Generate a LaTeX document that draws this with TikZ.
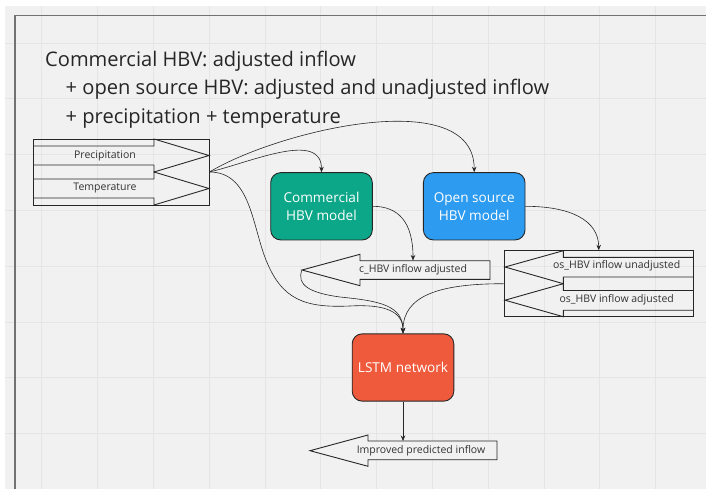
\documentclass[tikz,border=0pt]{standalone}
\usepackage{fontspec}
\setmainfont{Open Sans}
\usetikzlibrary{arrows.meta}

\definecolor{canvas}{HTML}{F1F1F1}
\definecolor{gridc}{HTML}{E5E5E5}
\definecolor{framec}{HTML}{727272}
\definecolor{inkc}{HTML}{262626}
\definecolor{lblc}{HTML}{333333}
\definecolor{commfill}{HTML}{0CA789}
\definecolor{osfill}{HTML}{2D9BF0}
\definecolor{lstmfill}{HTML}{F05A3C}

\tikzset{
  titletext/.style={anchor=base west, inner sep=0pt, text=inkc,
    font=\fontsize{20.1}{24}\selectfont},
  modelbox/.style={draw=inkc, line width=0.9pt, rounded corners=10pt,
    minimum width=101.6pt, minimum height=67.3pt, align=center,
    text=white, font=\fontsize{13.6}{18}\selectfont},
  groupbox/.style={draw=inkc, line width=0.9pt, inner sep=0pt},
  blockarrow/.style={draw=inkc, line width=0.9pt, line join=miter},
  lbl/.style={inner sep=0pt, text=lblc, font=\fontsize{10.5}{12}\selectfont},
  conn/.style={draw=inkc, line width=0.6pt,
    -{Stealth[length=5.5pt,width=4.5pt]}},
}

\begin{document}
\begin{tikzpicture}[x=1pt,y=-1pt]
\useasboundingbox (0,0) rectangle (706,489);

% canvas, grid and frame
\fill[white] (0,0) rectangle (706,489);
\fill[canvas] (5,6) rectangle (706,489);
\foreach \i in {0,...,11}
  \draw[gridc, line width=0.8pt] ({41.7+55.8*\i},6) -- ({41.7+55.8*\i},489);
\foreach \j in {0,...,7}
  \draw[gridc, line width=0.8pt] (5,{43+55.8*\j}) -- (706,{43+55.8*\j});
\draw[framec, line width=1.8pt] (15,489) -- (15,15.5) -- (706,15.5);

% heading
\node[titletext] (t1) at (45,66.7) {Commercial HBV: adjusted inflow};
\node[titletext] (t2) at (65.5,95) {+ open source HBV: adjusted and unadjusted inflow};
\node[titletext] (t3) at (65.5,123.3) {+ precipitation + temperature};

% meteorological inputs
\node[groupbox, minimum width=176pt, minimum height=66pt] (inputs) at (121,172) {};
\draw[blockarrow] (33,146) -- (154,146) -- (154,139) -- (209,155.5) -- (154,172) -- (154,165) -- (33,165);
\draw[blockarrow] (33,179) -- (154,179) -- (154,172) -- (209,188.5) -- (154,205) -- (154,198) -- (33,198);
\node[lbl] (prec) at (105,155.5) {Precipitation};
\node[lbl] (temp) at (105,188.5) {Temperature};

% hydrological models
\node[modelbox, fill=commfill] (comm) at (321.5,206.3) {Commercial\\HBV model};
\node[modelbox, fill=osfill] (osb) at (474.2,206.3) {Open source\\HBV model};

% commercial output
\draw[blockarrow, fill=canvas] (302,270) -- (360,254.3) -- (360,260.7) -- (490,260.7)
  -- (490,279.3) -- (360,279.3) -- (360,285.7) -- cycle;
\coordinate (ctip) at (302,270);
\node[lbl, minimum height=18.6pt] (clab) at (413,270) {c\_HBV inflow adjusted};

% open source outputs
\node[groupbox, minimum width=189.3pt, minimum height=66pt] (osg) at (598.7,283.7) {};
\draw[blockarrow] (693.3,257.3) -- (563.3,257.3) -- (563.3,250.7) -- (505,267)
  -- (563.3,283.7) -- (563.3,277) -- (693.3,277);
\draw[blockarrow] (693.3,290.5) -- (563.3,290.5) -- (563.3,283.7) -- (505,300.2)
  -- (563.3,316.7) -- (563.3,310.2) -- (693.3,310.2);
\node[lbl] (osu) at (616.7,266) {os\_HBV inflow unadjusted};
\node[lbl] (osa) at (616.7,299.5) {os\_HBV inflow adjusted};

% LSTM and its prediction
\node[modelbox, fill=lstmfill] (lstm) at (403,367.5) {LSTM network};
\draw[blockarrow, fill=canvas] (310,450.7) -- (368,435) -- (368,441) -- (497,441)
  -- (497,459.7) -- (368,459.7) -- (368,466.3) -- cycle;
\coordinate (imptop) at (403,441);
\node[lbl] (imp) at (421,450.3) {Improved predicted inflow};

% connectors
\coordinate (bendA) at (266,260);
\coordinate (bendB) at (350,306);
\coordinate (cbend) at (340,297);
\draw[conn] (inputs.east) .. controls +(42,-10) and +(0,-42) .. (comm.north);
\draw[conn] (inputs.east) .. controls +(70,-42) and +(0,-88) .. (osb.north);
\draw[conn] (inputs.east) .. controls +(41,0) and +(-14,-35) .. (bendA)
  .. controls +(16,40) and +(-45,2) .. (bendB)
  .. controls +(35,-2) and +(0,-22) .. (lstm.north);
\draw[conn] (comm.east) .. controls +(26,0) and +(0,-38) .. (clab.north);
\draw[conn] (osb.east) .. controls +(45,0) and +(0,-30) .. (osg.north);
\draw[conn] (ctip) .. controls +(-6,15) and +(-30,-4) .. (cbend)
  .. controls +(40,4) and +(0,-28) .. (lstm.north);
\draw[conn] (osg.west) .. controls +(-64,0) and +(0,-38) .. (lstm.north);
\draw[conn] (lstm.south) -- (imptop);
\end{tikzpicture}
\end{document}
